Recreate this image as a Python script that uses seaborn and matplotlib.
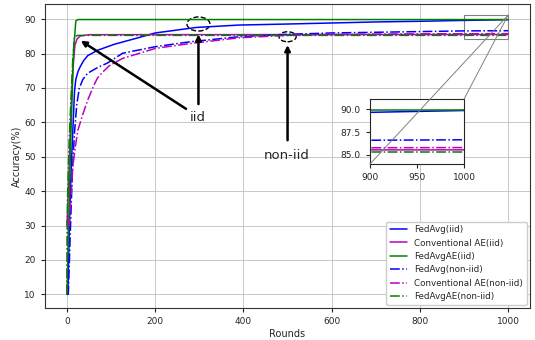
import matplotlib
matplotlib.use("Agg")
import matplotlib.pyplot as plt
import seaborn as sns
from matplotlib.patches import Ellipse, Rectangle, ConnectionPatch

# rounds / accuracy
fedavg_iid_x = [0, 2, 5, 9, 13, 17, 20, 25, 30, 38, 47, 70, 107, 150, 200, 293, 390, 500, 600, 700, 800, 900, 950, 1000]
fedavg_iid_y = [10, 10, 28, 45, 57, 69, 72.5, 74.8, 76.2, 78.0, 79.4, 81.0, 82.7, 84.2, 86.0, 87.6, 88.3, 88.6, 88.9, 89.2, 89.4, 89.65, 89.75, 89.85]

convae_iid_x = [0, 3, 8, 13, 18, 23, 30, 50, 1000]
convae_iid_y = [30, 40, 60, 75, 82.5, 84.3, 85.1, 85.5, 85.55]

fedavgae_iid_x = [0, 5, 9, 15, 20, 25, 1000]
fedavgae_iid_y = [10, 37, 57, 81, 89.5, 89.9, 89.9]

fedavg_noniid_x = [0, 3, 8, 12, 17, 22, 28, 36, 47, 70, 91, 126, 200, 277, 390, 500, 600, 700, 800, 900, 1000]
fedavg_noniid_y = [10, 10, 30, 45, 57, 65, 70, 72.5, 74.3, 76.0, 77.2, 80.1, 82.0, 83.4, 84.9, 85.6, 86.0, 86.2, 86.4, 86.6, 86.65]

convae_noniid_x = [0, 1, 5, 10, 13, 18, 24, 35, 47, 60, 69, 80, 96, 126, 200, 277, 390, 500, 600, 800, 1000]
convae_noniid_y = [10, 32, 30, 40, 47, 52, 57.4, 62, 66.5, 70.5, 72.9, 74.5, 76.5, 78.6, 81.5, 82.9, 84.6, 85.3, 85.6, 85.75, 85.8]

fedavgae_noniid_x = [0, 1, 5, 9, 13, 17, 25, 1000]
fedavgae_noniid_y = [10, 37, 55, 66.8, 78, 85, 85.3, 85.3]

series = [
    ("FedAvg(iid)", fedavg_iid_x, fedavg_iid_y, "b", "-"),
    ("Conventional AE(iid)", convae_iid_x, convae_iid_y, "m", "-"),
    ("FedAvgAE(iid)", fedavgae_iid_x, fedavgae_iid_y, "g", "-"),
    ("FedAvg(non-iid)", fedavg_noniid_x, fedavg_noniid_y, "b", "-."),
    ("Conventional AE(non-iid)", convae_noniid_x, convae_noniid_y, "m", "-."),
    ("FedAvgAE(non-iid)", fedavgae_noniid_x, fedavgae_noniid_y, "g", "-."),
]

sns.set_style("ticks")
plt.rcParams["font.family"] = ["DejaVu Sans"]

fig = plt.figure(figsize=(5.35, 3.4), dpi=100)
ax = fig.add_axes([0.084, 0.094, 0.907, 0.894])

for name, xs, ys, c, ls in series:
    sns.lineplot(x=xs, y=ys, ax=ax, color=c, linestyle=ls, lw=1.1, label=name)

ax.set_xlim(-50, 1050)
ax.set_ylim(6.0, 94.4)
ax.set_xticks([0, 200, 400, 600, 800, 1000])
ax.set_yticks([10, 20, 30, 40, 50, 60, 70, 80, 90])
ax.grid(True, color="#c8c8c8", lw=0.7)
ax.tick_params(labelsize=6.5, length=3)
ax.set_xlabel("Rounds", fontsize=7, labelpad=2)
ax.set_ylabel("Accuracy(%)", fontsize=7, labelpad=2)
for sp in ax.spines.values():
    sp.set_color("#333333")
ax.legend(loc="lower right", fontsize=6.3, framealpha=1, borderaxespad=0.4)

# annotations
ax.add_patch(Ellipse((298, 88.6), 52, 4.1, fill=False, ls="--", ec="k", lw=1))
ax.add_patch(Ellipse((500, 84.9), 39, 2.9, fill=False, ls="--", ec="k", lw=1))
ax.text(297, 61.5, "iid", fontsize=9.5, ha="center", va="center")
ax.text(497, 50.5, "non-iid", fontsize=9.5, ha="center", va="center")
arrow = dict(arrowstyle="-|>", lw=1.8, color="k", mutation_scale=8)
ax.annotate("", xy=(26, 84.2), xytext=(275, 63.5), arrowprops=arrow)
ax.annotate("", xy=(298, 86.4), xytext=(298, 64.5), arrowprops=arrow)
ax.annotate("", xy=(500, 83.3), xytext=(500, 54), arrowprops=arrow)

# zoomed inset
ax.add_patch(Rectangle((900, 84.2), 100, 7.0, fill=False, ec="grey", lw=0.8))
axins = fig.add_axes([0.6916, 0.5176, 0.1757, 0.191])
for name, xs, ys, c, ls in series:
    sns.lineplot(x=xs, y=ys, ax=axins, color=c, linestyle=ls, lw=1.1, legend=False)
axins.set_xlim(900, 1000)
axins.set_ylim(84.0, 91.1)
axins.set_xticks([900, 950, 1000])
axins.set_yticks([85.0, 87.5, 90.0])
axins.set_yticklabels(["85.0", "87.5", "90.0"])
axins.tick_params(labelsize=6.5, length=3)
axins.grid(False)
for corner in [(0, 0), (1, 1)]:
    con = ConnectionPatch(xyA=corner, coordsA=axins.transAxes, xyB=(1000, 91.2),
                          coordsB=ax.transData, color="grey", lw=0.7)
    fig.add_artist(con)

fig.savefig("out.png", dpi=100)
